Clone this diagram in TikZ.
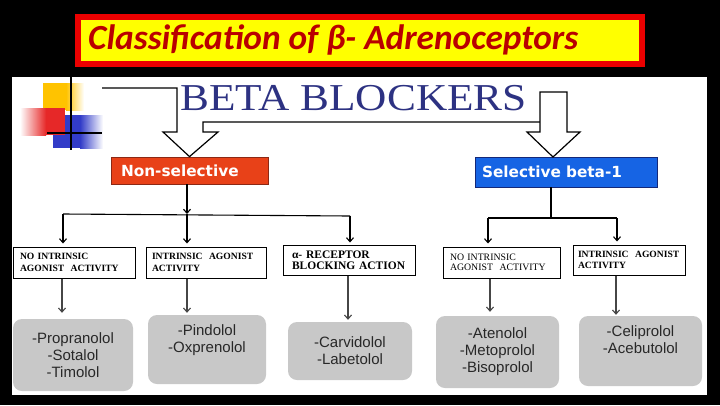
\documentclass[tikz,border=0pt]{standalone}
\usepackage{fontspec}
\setmainfont{Liberation Serif}
\newfontfamily\titlefont{Carlito}
\newfontfamily\dvs{DejaVu Sans}
\newfontfamily\arialf{Liberation Sans}
\usetikzlibrary{arrows.meta}
\definecolor{navy}{RGB}{45,50,130}
\definecolor{titred}{RGB}{235,0,0}
\definecolor{titletext}{RGB}{185,0,0}
\definecolor{titleyellow}{RGB}{255,255,0}
\definecolor{decoyellow}{RGB}{255,195,0}
\definecolor{decored}{RGB}{230,40,40}
\definecolor{decoblue}{RGB}{50,60,200}
\definecolor{nsfill}{RGB}{232,65,24}
\definecolor{nsdraw}{RGB}{140,40,20}
\definecolor{selfill}{RGB}{22,100,228}
\definecolor{seldraw}{RGB}{20,40,120}
\definecolor{boxgray}{RGB}{200,200,200}
\definecolor{graytext}{RGB}{40,40,40}
\definecolor{arrgray}{RGB}{70,70,70}
\tikzset{
  arr/.style={-{Straight Barb[length=4pt,width=7pt]}, line width=1.1pt},
  classbox/.style={draw, line width=1pt, fill=white, align=left, inner ysep=0pt,
     font=\fontsize{9.6}{12}\selectfont\bfseries},
  drugbox/.style={fill=boxgray, rounded corners=9pt, align=center, inner sep=0pt,
     text=graytext, font=\arialf\fontsize{15}{17}\selectfont},
  groupbox/.style={line width=0.8pt, align=left, inner ysep=0pt, text=white,
     font=\dvs\bfseries\fontsize{15.3}{18}\selectfont},
  hollow/.style={line width=1.2pt}
}
\begin{document}
\begin{tikzpicture}[x=1pt,y=-1pt]
\useasboundingbox (0,0) rectangle (720,405);
\fill[black] (0,0) rectangle (720,405);
\fill[white] (12,77) rectangle (707,395);

% title
\node[draw=titred, line width=6pt, fill=titleyellow, minimum width=564pt,
      minimum height=47pt, inner sep=0pt] (title) at (360,40.5) {};
\node[anchor=base west, inner sep=0pt, text=titletext] (titletxt) at (88,49)
  {\resizebox{490pt}{!}{\titlefont\bfseries\itshape Classification of β- Adrenoceptors}};

% decoration
\fill[decoyellow] (43,83) rectangle (66,110);
\shade[left color=decoyellow, right color=white] (66,83) rectangle (84,110);
\fill[decoblue] (53,115) rectangle (80,148);
\shade[left color=decoblue, right color=white] (80,115) rectangle (103,148);
\shade[left color=white, right color=decored] (20,108) rectangle (46,135);
\fill[decored] (46,108) rectangle (65,135);
\draw[line width=1.5pt] (71,77) -- (71,150);
\draw[line width=1.5pt] (47,133) -- (102,133);

% heading
\node[anchor=base west, inner sep=0pt, text=navy] (beta) at (180,110)
  {\scalebox{1.14}[1]{\fontsize{38}{38}\selectfont BETA BLOCKERS}};

% group boxes
\node[groupbox, draw=nsdraw, fill=nsfill, minimum width=157pt, minimum height=27pt,
      text width=137pt, inner xsep=10pt] (nonsel) at (189.5,170.5) {Non-selective};
\node[groupbox, draw=seldraw, fill=selfill, minimum width=182pt, minimum height=30pt,
      text width=168pt, inner xsep=7pt] (sel) at (566,172) {Selective beta-1};

% hollow arrows
\draw[hollow] (102,88) -- (177,88) -- (177,132) -- (163,132) -- (nonsel.north)
   -- (218,132) -- (203,132) -- (203,122) -- (540,122);
\draw[hollow, fill=white] (540,92) -- (567,92) -- (567,132) -- (580,132)
   -- (553,157) -- (527,132) -- (540,132) -- cycle;

% class boxes
\node[classbox, minimum width=122pt, minimum height=31pt, text width=108pt, inner xsep=7pt]
  (b1) at (74,262.5) {NO INTRINSIC\\AGONIST\ \ ACTIVITY};
\node[classbox, minimum width=120pt, minimum height=31pt, text width=108pt, inner xsep=6pt]
  (b2) at (206,262.5) {INTRINSIC\ \ AGONIST\\ACTIVITY};
\node[classbox, minimum width=132pt, minimum height=30pt, text width=114pt, inner xsep=9pt,
      font=\fontsize{11.5}{11}\selectfont\bfseries]
  (b3) at (349,260) {α- RECEPTOR\\BLOCKING ACTION};
\node[classbox, minimum width=117pt, minimum height=31pt, text width=103pt, inner xsep=7pt,
      font=\fontsize{9.8}{10.5}\selectfont]
  (b4) at (501.5,262.5) {NO INTRINSIC\\AGONIST\ \ ACTIVITY};
\node[classbox, minimum width=112pt, minimum height=30pt, text width=102pt, inner xsep=5pt,
      font=\fontsize{9.6}{10.5}\selectfont\bfseries]
  (b5) at (629,260) {INTRINSIC\ \ AGONIST\\ACTIVITY};

% drug boxes
\node[drugbox, minimum width=120pt, minimum height=72pt] (g1) at (73,355)
  {-Propranolol\\-Sotalol\\-Timolol};
\node[drugbox, minimum width=118pt, minimum height=69pt] (g2) at (207,349.5)
  {-Pindolol\\-Oxprenolol\\\strut};
\node[drugbox, minimum width=124pt, minimum height=58pt] (g3) at (350,351)
  {-Carvidolol\\-Labetolol};
\node[drugbox, minimum width=123pt, minimum height=72pt] (g4) at (497.5,352)
  {-Atenolol\\-Metoprolol\\-Bisoprolol};
\node[drugbox, minimum width=123pt, minimum height=70pt] (g5) at (640.5,351)
  {-Celiprolol\\-Acebutolol\\\strut};

% connector coordinates
\coordinate (n0) at (187,214);
\coordinate (n1) at (63,214);
\coordinate (n2) at (187,214);
\coordinate (n3) at (350,216);
\coordinate (s0) at (551,218);
\coordinate (s1) at (488,218);
\coordinate (s2) at (617,218);
\coordinate (x1) at (62,0);
\coordinate (x2) at (187,0);
\coordinate (x3) at (348,0);
\coordinate (x4) at (490,0);
\coordinate (x5) at (616,0);

% non-selective branches
\draw[arr] (nonsel.south -| n0) -- (n0);
\draw[line width=1.1pt] (n1) -- (n3);
\draw[arr, shorten >=3pt] (n1) -- (b1.north -| n1);
\draw[arr, shorten >=3pt] (n2) -- (b2.north -| n2);
\draw[arr, shorten >=2pt] (n3) -- (b3.north -| n3);

% selective branches
\draw[line width=1.1pt] (sel.south -| s0) -- (s0);
\draw[line width=1.1pt] (s1) -- (s2);
\draw[arr, shorten >=3pt] (s1) -- (b4.north -| s1);
\draw[arr, shorten >=3pt] (s2) -- (b5.north -| s2);

% to drugs
\draw[arr, draw=arrgray, shorten >=6pt] (b1.south -| x1) -- (g1.north -| x1);
\draw[arr, draw=arrgray, shorten >=2pt] (b2.south -| x2) -- (g2.north -| x2);
\draw[arr, draw=arrgray, shorten >=2pt] (b3.south -| x3) -- (g3.north -| x3);
\draw[arr, draw=arrgray, shorten >=4pt] (b4.south -| x4) -- (g4.north -| x4);
\draw[arr, draw=arrgray, shorten >=1pt] (b5.south -| x5) -- (g5.north -| x5);
\end{tikzpicture}
\end{document}
